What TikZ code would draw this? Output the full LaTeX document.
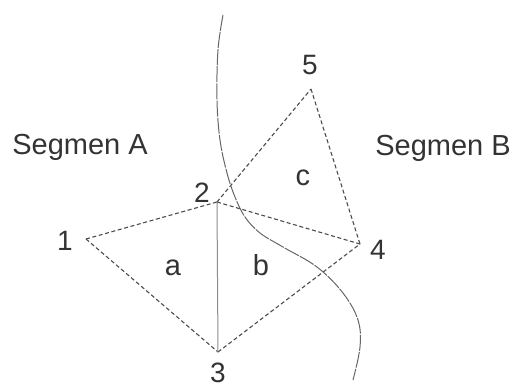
\documentclass[tikz,border=0pt]{standalone}
\usepackage{fontspec}
\setmainfont{Liberation Sans}
\usepackage{tikz}
\usetikzlibrary{calc}
\usetikzlibrary{positioning}

\begin{document}
\begin{tikzpicture}[x=0.5pt,y=-0.5pt]
    \tikzstyle{every node}=[inner sep=0pt,text=black!80]
    \tikzstyle{edge}=[draw=black!70,line width=0.55pt,dash pattern=on 2pt off 1.3pt]
    \tikzstyle{numlabel}=[font=\fontsize{14}{16}\selectfont]
    \tikzstyle{seglabel}=[font=\fontsize{14.5}{17}\selectfont]

    \useasboundingbox (0,0) rectangle (516,388) ;

    % vertices
    \coordinate (v1) at (86,239) ;
    \coordinate (v2) at (217,202) ;
    \coordinate (v3) at (218,352) ;
    \coordinate (v4) at (360,244) ;
    \coordinate (v5) at (311,89) ;

    \node[numlabel] (n1) at (65,241) {1} ;
    \node[numlabel] (n2) at (202,193) {2} ;
    \node[numlabel] (n3) at (218,373) {3} ;
    \node[numlabel] (n4) at (378,250) {4} ;
    \node[numlabel] (n5) at (310,65) {5} ;

    \node[seglabel] (fa) at (173,268) {a} ;
    \node[seglabel] (fb) at (261,265) {b} ;
    \node[seglabel] (fc) at (303,178) {c} ;

    \node[seglabel] (sega) at (80,147) {Segmen A} ;
    \node[seglabel] (segb) at (443,148) {Segmen B} ;

    % triangle edges
    \draw[edge] (v1) -- (v2) ;
    \draw[edge] (v1) -- (v3) ;
    \draw[edge] (v3) -- (v4) ;
    \draw[edge] (v2) -- (v4) ;
    \draw[edge] (v2) -- (v5) ;
    \draw[edge] (v5) -- (v4) ;
    \draw[draw=black!45,line width=0.5pt] (v2) -- (v3) ;

    % segment boundary
    \draw[draw=black!60,line width=0.5pt,dash pattern=on 8pt off 0.6pt] plot[smooth,tension=0.6] coordinates
      {(223,15) (218,50) (217,100) (220,140) (227,173) (235,197) (245,217)
       (260,233) (283,247) (317,267) (343,293) (358,320) (360,347) (353,380)} ;

\end{tikzpicture}
\end{document}
